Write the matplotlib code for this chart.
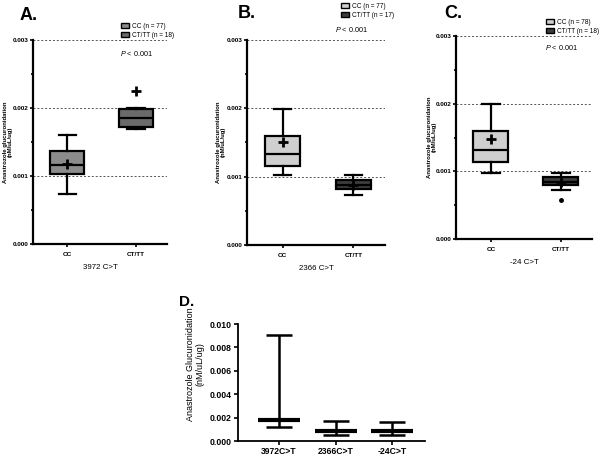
import numpy as np
from matplotlib import pyplot as plt
from matplotlib.patches import Patch

plt.rcParams['font.family'] = ['Liberation Sans', 'DejaVu Sans']
plt.rcParams['mathtext.fontset'] = 'custom'
plt.rcParams['mathtext.it'] = 'Liberation Sans:italic'
plt.rcParams['mathtext.rm'] = 'Liberation Sans'

groups = ['CC', 'CT/TT']

# box summaries: whislo, q1, med, q3, whishi, mean
a_cc = [0.00074, 0.00103, 0.00116, 0.00137, 0.00160, 0.00118]
a_tt = [0.00170, 0.00173, 0.00185, 0.00199, 0.00200, 0.00225]
b_cc = [0.00102, 0.00115, 0.00133, 0.00160, 0.00199, 0.00150]
b_tt = [0.00073, 0.00082, 0.00088, 0.00095, 0.00102, 0.00088]
c_cc = [0.00098, 0.00114, 0.00131, 0.00160, 0.00199, 0.00148]
c_tt = [0.00072, 0.00080, 0.00085, 0.00091, 0.00097, 0.00085]
c_tt_fliers = [0.00058]

snps = ['3972 C>T', '2366 C>T', '-24 C>T']
n_cc = [77, 77, 78]
n_tt = [18, 17, 18]

d_labels = ['3972C>T', '2366C>T', '-24C>T']
d_center = [0.00180, 0.00085, 0.00085]
d_low = [0.00120, 0.00055, 0.00050]
d_high = [0.00910, 0.00170, 0.00160]

cc_colors = ['#8c8c8c', '#cfcfcf', '#cfcfcf']
tt_colors = ['#6a6a6a', '#3c3c3c', '#3c3c3c']

W, H = 600, 457
fig = plt.figure(figsize=(6, 4.57), dpi=100)


def stats(v, fliers=()):
    return dict(whislo=v[0], q1=v[1], med=v[2], q3=v[3], whishi=v[4], mean=v[5], fliers=list(fliers))


def box_panel(rect, cc, tt, fliers, snp, k, letter, letter_xy, leg_xy, p_xy, ylab_xy):
    ax = fig.add_axes(rect)
    bx = ax.bxp([stats(cc), stats(tt, fliers)], positions=[1, 2], widths=0.5,
                patch_artist=True, showmeans=True,
                boxprops=dict(linewidth=1.6, edgecolor='black'),
                whiskerprops=dict(linewidth=1.6),
                capprops=dict(linewidth=1.6),
                medianprops=dict(color='black', linewidth=1.6),
                meanprops=dict(marker='+', markeredgecolor='black', markersize=7, markeredgewidth=2),
                flierprops=dict(marker='o', markerfacecolor='black', markeredgecolor='black', markersize=2.5))
    bx['boxes'][0].set_facecolor(cc_colors[k])
    bx['boxes'][1].set_facecolor(tt_colors[k])
    ax.set_xlim(0.5, 2.45)
    ax.set_ylim(0, 0.003)
    ax.set_yticks([0, 0.001, 0.002, 0.003])
    ax.set_yticklabels(['0.000', '0.001', '0.002', '0.003'])
    ax.set_yticks([0.0005, 0.0015, 0.0025], minor=True)
    for y in [0.001, 0.002, 0.003]:
        ax.axhline(y, color='#555555', linestyle=(0, (2, 2)), linewidth=0.7, zorder=0)
    ax.set_xticks([1, 2])
    ax.set_xticklabels(groups)
    ax.tick_params(labelsize=4.6, width=1.2, length=2.5, pad=0.6)
    ax.tick_params(axis='x', pad=3)
    ax.tick_params(which='minor', width=1.2, length=1.5)
    for lab in ax.get_yticklabels() + ax.get_xticklabels():
        lab.set_fontweight('bold')
    for s in ['top', 'right']:
        ax.spines[s].set_visible(False)
    for s in ['left', 'bottom']:
        ax.spines[s].set_linewidth(1.6)
    ax.set_ylabel('Anastrozole glucuronidation\n(nM/uL/ug)', fontsize=4.3, fontweight='bold',
                  linespacing=0.95)
    ax.yaxis.set_label_coords(ylab_xy[0] / W, 1 - ylab_xy[1] / H, transform=fig.transFigure)
    ax.set_xlabel(snp, fontsize=5.7, labelpad=5)
    fig.text(letter_xy[0] / W, 1 - letter_xy[1] / H, letter, fontsize=13, fontweight='bold',
             ha='left', va='center')
    fig.legend(handles=[Patch(facecolor=cc_colors[k], edgecolor='black', label=f'CC (n = {n_cc[k]})'),
                        Patch(facecolor=tt_colors[k], edgecolor='black', label=f'CT/TT (n = {n_tt[k]})')],
               loc='upper left', bbox_to_anchor=(leg_xy[0] / W, 1 - leg_xy[1] / H),
               fontsize=4.7, frameon=False, handlelength=1.2, handleheight=0.8,
               handletextpad=0.4, borderpad=0, labelspacing=0.3)
    fig.text(p_xy[0] / W, 1 - p_xy[1] / H, r'$P$ < 0.001', fontsize=5.2, ha='left', va='center')
    return ax


box_panel([33 / W, 0.466, 0.223, 0.446], a_cc, a_tt, [], snps[0], 0, 'A.', (20, 15), (118, 20), (120, 53), (13, 142))
box_panel([0.412, 0.464, 0.230, 0.449], b_cc, b_tt, [], snps[1], 1, 'B.', (238, 14), (338, 0), (335, 30), (226, 142))
box_panel([0.760, 0.477, 0.227, 0.444], c_cc, c_tt, c_tt_fliers, snps[2], 2, 'C.', (444, 14), (543, 16), (545, 48), (437, 137))

# panel D
ax = fig.add_axes([0.397, 0.035, 0.312, 0.256])
x = np.arange(len(d_labels))
yerr = [np.array(d_center) - np.array(d_low), np.array(d_high) - np.array(d_center)]
ax.errorbar(x, d_center, yerr=yerr, fmt='none', ecolor='black', elinewidth=1.8, capsize=9.5, capthick=1.8)
ax.plot(x, d_center, linestyle='none', marker='_', markersize=30, markeredgewidth=3, color='black')
ax.set_xlim(-0.72, 2.58)
ax.set_ylim(0, 0.010)
ax.set_yticks(np.arange(0, 0.0101, 0.002))
ax.set_yticklabels(['0.000', '0.002', '0.004', '0.006', '0.008', '0.010'])
ax.set_xticks(x)
ax.set_xticklabels(d_labels)
ax.tick_params(labelsize=6.2, width=1.2, length=3, pad=1.5)
for lab in ax.get_xticklabels() + ax.get_yticklabels():
    lab.set_fontweight('bold')
for s in ['top', 'right']:
    ax.spines[s].set_visible(False)
for s in ['left', 'bottom']:
    ax.spines[s].set_linewidth(1.3)
ax.set_ylabel('Anastrozole Glucuronidation\n(nM/uL/ug)', fontsize=6.5, linespacing=1.05)
ax.yaxis.set_label_coords(204 / W, 1 - 364 / H, transform=fig.transFigure)
fig.text(179 / W, 1 - 302 / H, 'D.', fontsize=11, fontweight='bold', ha='left', va='center')

fig.savefig('out.png', dpi=100)
